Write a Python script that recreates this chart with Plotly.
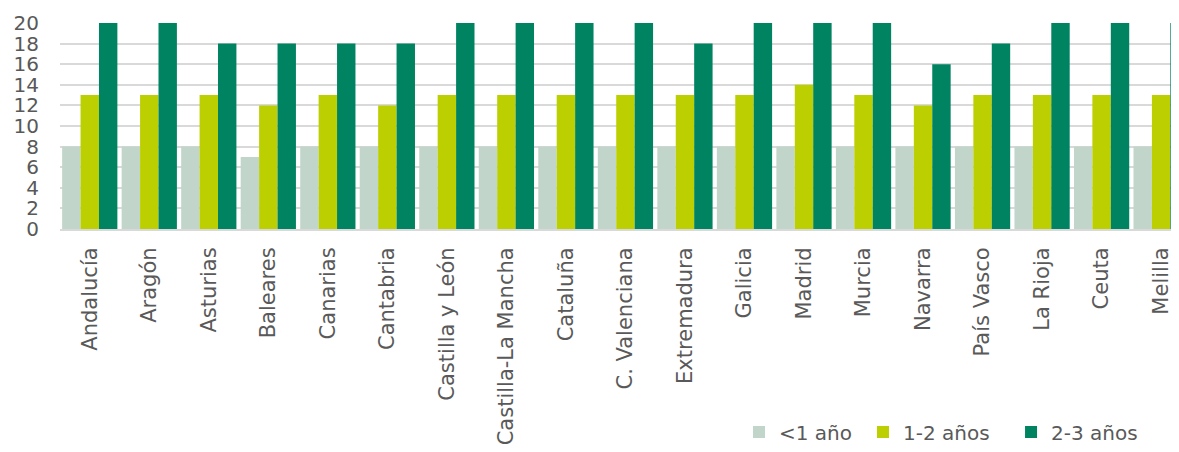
import plotly.graph_objects as go

regiones = ["Andalucía", "Aragón", "Asturias", "Baleares", "Canarias", "Cantabria",
            "Castilla y León", "Castilla-La Mancha", "Cataluña", "C. Valenciana",
            "Extremadura", "Galicia", "Madrid", "Murcia", "Navarra", "País Vasco",
            "La Rioja", "Ceuta", "Melilla"]
menos_1 = [8, 8, 8, 7, 8, 8, 8, 8, 8, 8, 8, 8, 8, 8, 8, 8, 8, 8, 8]
de_1_2 = [13, 13, 13, 12, 13, 12, 13, 13, 13, 13, 13, 13, 14, 13, 12, 13, 13, 13, 13]
de_2_3 = [20, 20, 18, 18, 18, 18, 20, 20, 20, 20, 18, 20, 20, 20, 16, 18, 20, 20, 20]
tick_vals = list(range(0, 21, 2))

series = [("<1 año", menos_1, "#c1d5ca", "legend", 0.6068),
          ("1-2 años", de_1_2, "#bccf00", "legend2", 0.7176),
          ("2-3 años", de_2_3, "#008361", "legend3", 0.8499)]

FONT = "DejaVu Sans"
GREY = "#595959"

OFF = 8  # page body margin
W = 1179 - OFF
H = 452 - OFF
L = 52
T = 15
PH = 206
pitch = 59.52
right = -0.5 + (W - L) / pitch
leg_y = -(432 - OFF - T - PH) / PH

fig = go.Figure()
legends = {}
for name, vals, col, leg, lx in series:
    fig.add_trace(go.Bar(x=regiones, y=vals, name=name, legend=leg,
                         marker=dict(color=col, line=dict(width=0))))
    legends[leg] = dict(orientation="h", x=lx, xanchor="left", y=leg_y,
                        yanchor="middle", font=dict(size=20, color=GREY),
                        bgcolor="rgba(0,0,0,0)")

fig.update_layout(
    width=W, height=H,
    margin=dict(l=L, r=0, t=T, b=H - T - PH, autoexpand=False),
    barmode="group", bargap=0.072, bargroupgap=0,
    plot_bgcolor="white", paper_bgcolor="white",
    font=dict(family=FONT, size=20, color=GREY),
    xaxis=dict(range=[-0.5, right], tickangle=-90, showgrid=False, showline=True,
               linecolor="#d9d9d9", linewidth=2, ticks="", automargin=False,
               ticklabelstandoff=8, tickfont=dict(size=21, color=GREY)),
    yaxis=dict(range=[0, 20], tickvals=tick_vals, showgrid=True, gridcolor="#d9d9d9",
               gridwidth=2, zeroline=False, ticks="", automargin=False,
               ticklabelstandoff=20, tickfont=dict(size=20, color=GREY)),
    showlegend=True,
    **legends,
)

fig.write_html("out.html")
